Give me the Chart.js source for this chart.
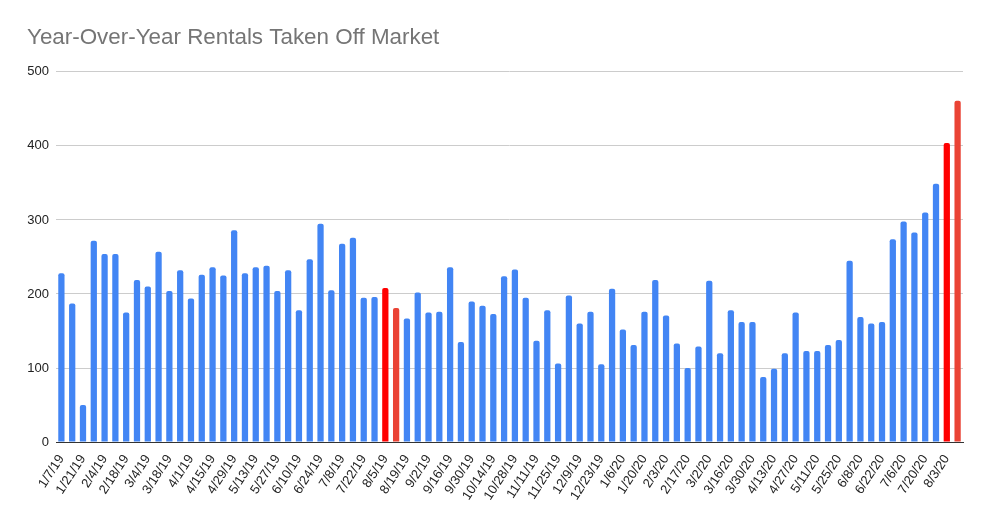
<!DOCTYPE html>
<html>
<head>
<meta charset="utf-8">
<script src="https://cdn.jsdelivr.net/npm/chart.js@4"></script>
<style>
  body { margin: 0; background: #fff; }
</style>
</head>
<body>
<canvas id="chart" width="990" height="523"></canvas>
<script>
const weeks2019 = [
  "1/7/19", "1/14/19", "1/21/19", "1/28/19", "2/4/19", "2/11/19", "2/18/19", "2/25/19",
  "3/4/19", "3/11/19", "3/18/19", "3/25/19", "4/1/19", "4/8/19", "4/15/19", "4/22/19",
  "4/29/19", "5/6/19", "5/13/19", "5/20/19", "5/27/19", "6/3/19", "6/10/19", "6/17/19",
  "6/24/19", "7/1/19", "7/8/19", "7/15/19", "7/22/19", "7/29/19", "8/5/19", "8/12/19",
  "8/19/19", "8/26/19", "9/2/19", "9/9/19", "9/16/19", "9/23/19", "9/30/19", "10/7/19",
  "10/14/19", "10/21/19", "10/28/19", "11/4/19", "11/11/19", "11/18/19", "11/25/19", "12/2/19",
  "12/9/19", "12/16/19", "12/23/19", "12/30/19"
];
const weeks2020 = [
  "1/6/20", "1/13/20", "1/20/20", "1/27/20", "2/3/20", "2/10/20", "2/17/20", "2/24/20",
  "3/2/20", "3/9/20", "3/16/20", "3/23/20", "3/30/20", "4/6/20", "4/13/20", "4/20/20",
  "4/27/20", "5/4/20", "5/11/20", "5/18/20", "5/25/20", "6/1/20", "6/8/20", "6/15/20",
  "6/22/20", "6/29/20", "7/6/20", "7/13/20", "7/20/20", "7/27/20", "8/3/20", "8/10/20"
];
const rentals2019 = [
  228, 187, 50, 272, 254, 254, 175, 219, 210, 257,
  204, 232, 194, 226, 236, 225, 286, 228, 236, 238,
  204, 232, 178, 247, 295, 205, 268, 276, 195, 196,
  208, 181, 167, 202, 175, 176, 236, 135, 190, 184,
  173, 224, 233, 195, 137, 178, 106, 198, 160, 176,
  105, 207
];
const rentals2020 = [
  152, 131, 176, 219, 171, 133, 100, 129, 218, 120,
  178, 162, 162, 88, 99, 120, 175, 123, 123, 131,
  138, 245, 169, 160, 162, 274, 298, 283, 310, 349,
  404, 461
];
const yTicks = [0, 100, 200, 300, 400, 500];
// weeks drawn in red / lighter red
const redWeeks = ["8/5/19", "8/3/20"];
const lightRedWeeks = ["8/12/19", "8/10/20"];

const labels = weeks2019.concat(weeks2020);
const values = rentals2019.concat(rentals2020);
const colors = labels.map(l =>
  redWeeks.includes(l) ? "#ff0000" : lightRedWeeks.includes(l) ? "#ea4335" : "#4285f4"
);

const font = "'Liberation Sans', Arial, sans-serif";

new Chart(document.getElementById("chart"), {
  type: "bar",
  data: {
    labels: labels,
    datasets: [{
      data: values,
      backgroundColor: colors,
      borderRadius: { topLeft: 2, topRight: 2 },
      borderSkipped: "bottom",
      categoryPercentage: 1,
      barPercentage: 0.58
    }]
  },
  options: {
    responsive: false,
    animation: false,
    layout: { padding: { left: 27, right: 27, top: 24, bottom: 18 } },
    plugins: {
      legend: { display: false },
      tooltip: { enabled: false },
      title: {
        display: true,
        text: "Year-Over-Year Rentals Taken Off Market",
        align: "start",
        color: "#757575",
        font: { family: font, size: 22.4, weight: "normal" },
        padding: { top: 0, bottom: 21 }
      }
    },
    scales: {
      x: {
        grid: { display: false },
        border: { display: true, color: "#333333", width: 1 },
        ticks: {
          autoSkip: false,
          minRotation: 57,
          maxRotation: 57,
          color: "#222222",
          font: { family: font, size: 13 },
          padding: 2,
          callback: function (val, i) { return i % 2 === 0 ? labels[i] : ""; }
        }
      },
      y: {
        min: 0,
        max: 500,
        afterBuildTicks: axis => { axis.ticks = yTicks.map(v => ({ value: v })); },
        afterFit: axis => { axis.width = 29; },
        grid: { color: "#cccccc", drawTicks: false },
        border: { display: false },
        ticks: {
          color: "#222222",
          font: { family: font, size: 13 },
          padding: 7
        }
      }
    }
  }
});
</script>
</body>
</html>
